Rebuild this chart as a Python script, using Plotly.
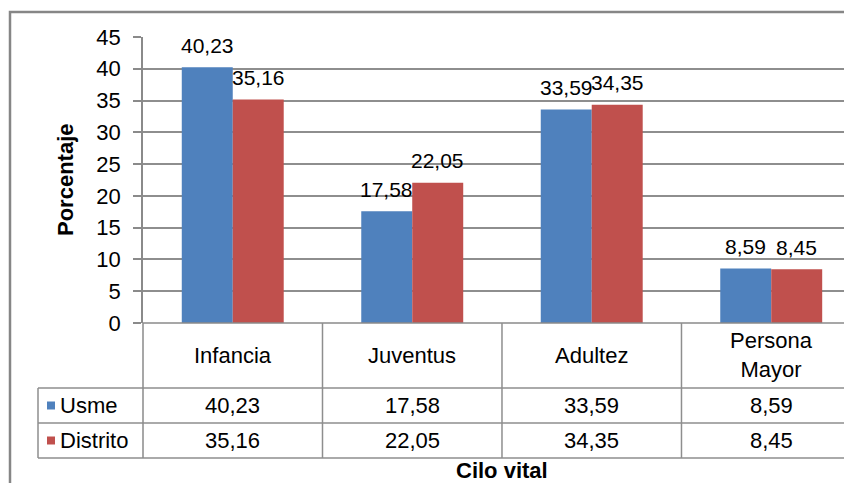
import plotly.graph_objects as go

# ---------------- data ----------------
categories = ["Infancia", "Juventus", "Adultez", "Persona<br>Mayor"]
series_names = ["Usme", "Distrito"]
usme = [40.23, 17.58, 33.59, 8.59]
distrito = [35.16, 22.05, 34.35, 8.45]
y_ticks = [0, 5, 10, 15, 20, 25, 30, 35, 40, 45]
y_title = "Porcentaje"
x_title = "Cilo vital"

# ---------------- style ----------------
colors = ["#4F81BD", "#C0504D"]
FONT = "Liberation Sans, Arial, sans-serif"
FS = 22
FSL = 21
FSB = 22
GRID = "#8e8e8e"
LINE = "#8a8a8a"
OFF = 8  # page body margin
W, H = 852 - OFF, 483 - OFF
ML, MR, MT, MB = 143 - OFF, 0, 37 - OFF, 160
BARGAP = 0.432
X_RANGE = [-0.5, 3.45]

plot_w = W - ML - MR
plot_h = H - MT - MB


def fmt(v):
    return f"{v:.2f}".replace(".", ",")


def px_x(px):  # page pixel x -> paper
    return (px - OFF - ML) / plot_w


def px_y(py):  # page pixel y -> paper
    return (H - MB - (py - OFF)) / plot_h


def ux(v):  # x-axis unit -> paper
    return (v - X_RANGE[0]) / (X_RANGE[1] - X_RANGE[0])


all_series = [usme, distrito]
xs = list(range(len(categories)))

fig = go.Figure()
for name, vals, col in zip(series_names, all_series, colors):
    fig.add_trace(go.Bar(x=xs, y=vals, name=name, marker=dict(color=col, line=dict(width=0)),
                         showlegend=False))

annotations = []
shapes = []

# data labels above bars
bar_w = (1 - BARGAP) / len(all_series)
for s, vals in enumerate(all_series):
    off = (s - (len(all_series) - 1) / 2) * bar_w
    for i, v in enumerate(vals):
        annotations.append(dict(x=i + off, y=v, xref="x", yref="y", text=fmt(v),
                                showarrow=False, yanchor="middle", yshift=22,
                                font=dict(family=FONT, size=FSL, color="#000")))

# ---------- data table ----------
header_h, row_h = 65, 35
y0 = 323
row_lines = [y0, y0 + header_h, y0 + header_h + row_h, y0 + header_h + 2 * row_h]
table_left_px = 38
right_edge = 1.05

# horizontal lines
shapes.append(dict(type="line", xref="paper", yref="paper", x0=0, x1=right_edge,
                   y0=px_y(row_lines[0]), y1=px_y(row_lines[0]), line=dict(color=LINE, width=1.5)))
for ry in row_lines[1:]:
    shapes.append(dict(type="line", xref="paper", yref="paper", x0=px_x(table_left_px), x1=right_edge,
                       y0=px_y(ry), y1=px_y(ry), line=dict(color=GRID, width=1.5)))
# left border of data rows
shapes.append(dict(type="line", xref="paper", yref="paper", x0=px_x(table_left_px), x1=px_x(table_left_px),
                   y0=px_y(row_lines[1]), y1=px_y(row_lines[3]), line=dict(color=GRID, width=1.5)))
# axis line continuing down
shapes.append(dict(type="line", xref="paper", yref="paper", x0=0, x1=0,
                   y0=px_y(row_lines[0]), y1=px_y(row_lines[3]), line=dict(color=LINE, width=1.5)))
# category boundaries
for b in range(len(categories)):
    xb = ux(b + 0.5)
    if xb <= 1:
        shapes.append(dict(type="line", xref="paper", yref="paper", x0=xb, x1=xb,
                           y0=px_y(row_lines[0]), y1=px_y(row_lines[3]), line=dict(color=GRID, width=1.5)))

# header labels
for i, c in enumerate(categories):
    annotations.append(dict(x=ux(i), y=px_y((row_lines[0] + row_lines[1]) / 2), xref="paper", yref="paper",
                            text=c, showarrow=False, xanchor="center", yanchor="middle",
                            font=dict(family=FONT, size=FS, color="#000")))

# rows
for s, (name, vals, col) in enumerate(zip(series_names, all_series, colors)):
    cy = (row_lines[1 + s] + row_lines[2 + s]) / 2
    shapes.append(dict(type="rect", xref="paper", yref="paper", x0=px_x(47), x1=px_x(55),
                       y0=px_y(cy + 4), y1=px_y(cy - 4), fillcolor=col, line=dict(width=0)))
    annotations.append(dict(x=px_x(58), y=px_y(cy), xref="paper", yref="paper", text=name,
                            showarrow=False, xanchor="left", yanchor="middle",
                            font=dict(family=FONT, size=FS, color="#000")))
    for i, v in enumerate(vals):
        annotations.append(dict(x=ux(i), y=px_y(cy), xref="paper", yref="paper", text=fmt(v),
                                showarrow=False, xanchor="center", yanchor="middle",
                                font=dict(family=FONT, size=FS, color="#000")))

# axis titles
annotations.append(dict(x=ux(1.5), y=px_y(470), xref="paper", yref="paper", text=f"<b>{x_title}</b>",
                        showarrow=False, xanchor="center", yanchor="middle",
                        font=dict(family=FONT, size=FSB, color="#000")))
annotations.append(dict(x=px_x(65), y=px_y(180), xref="paper", yref="paper", text=f"<b>{y_title}</b>",
                        showarrow=False, xanchor="center", yanchor="middle", textangle=-90,
                        font=dict(family=FONT, size=FSB, color="#000")))

# outer chart border (top and left visible)
shapes.append(dict(type="path", xref="paper", yref="paper",
                   path=f"M {px_x(10)} {px_y(500)} L {px_x(10)} {px_y(12)} L {px_x(870)} {px_y(12)}",
                   line=dict(color="#868686", width=2.5)))

fig.update_layout(
    width=W, height=H,
    margin=dict(l=ML, r=MR, t=MT, b=MB),
    paper_bgcolor="white", plot_bgcolor="white",
    barmode="group", bargap=BARGAP, bargroupgap=0,
    font=dict(family=FONT, size=FS, color="#000"),
    xaxis=dict(range=X_RANGE, showticklabels=False, showgrid=False, zeroline=False,
               showline=False, ticks=""),
    yaxis=dict(range=[0, 45], tickvals=y_ticks, showgrid=True, gridcolor=GRID, gridwidth=1.5,
               zeroline=False, showline=True, linecolor=LINE, linewidth=1.5,
               ticks="outside", ticklen=8, tickcolor=LINE, tickwidth=1.5,
               ticklabelstandoff=8, tickfont=dict(family=FONT, size=FS, color="#000")),
    annotations=annotations,
    shapes=shapes,
)

fig.write_html("out.html")
